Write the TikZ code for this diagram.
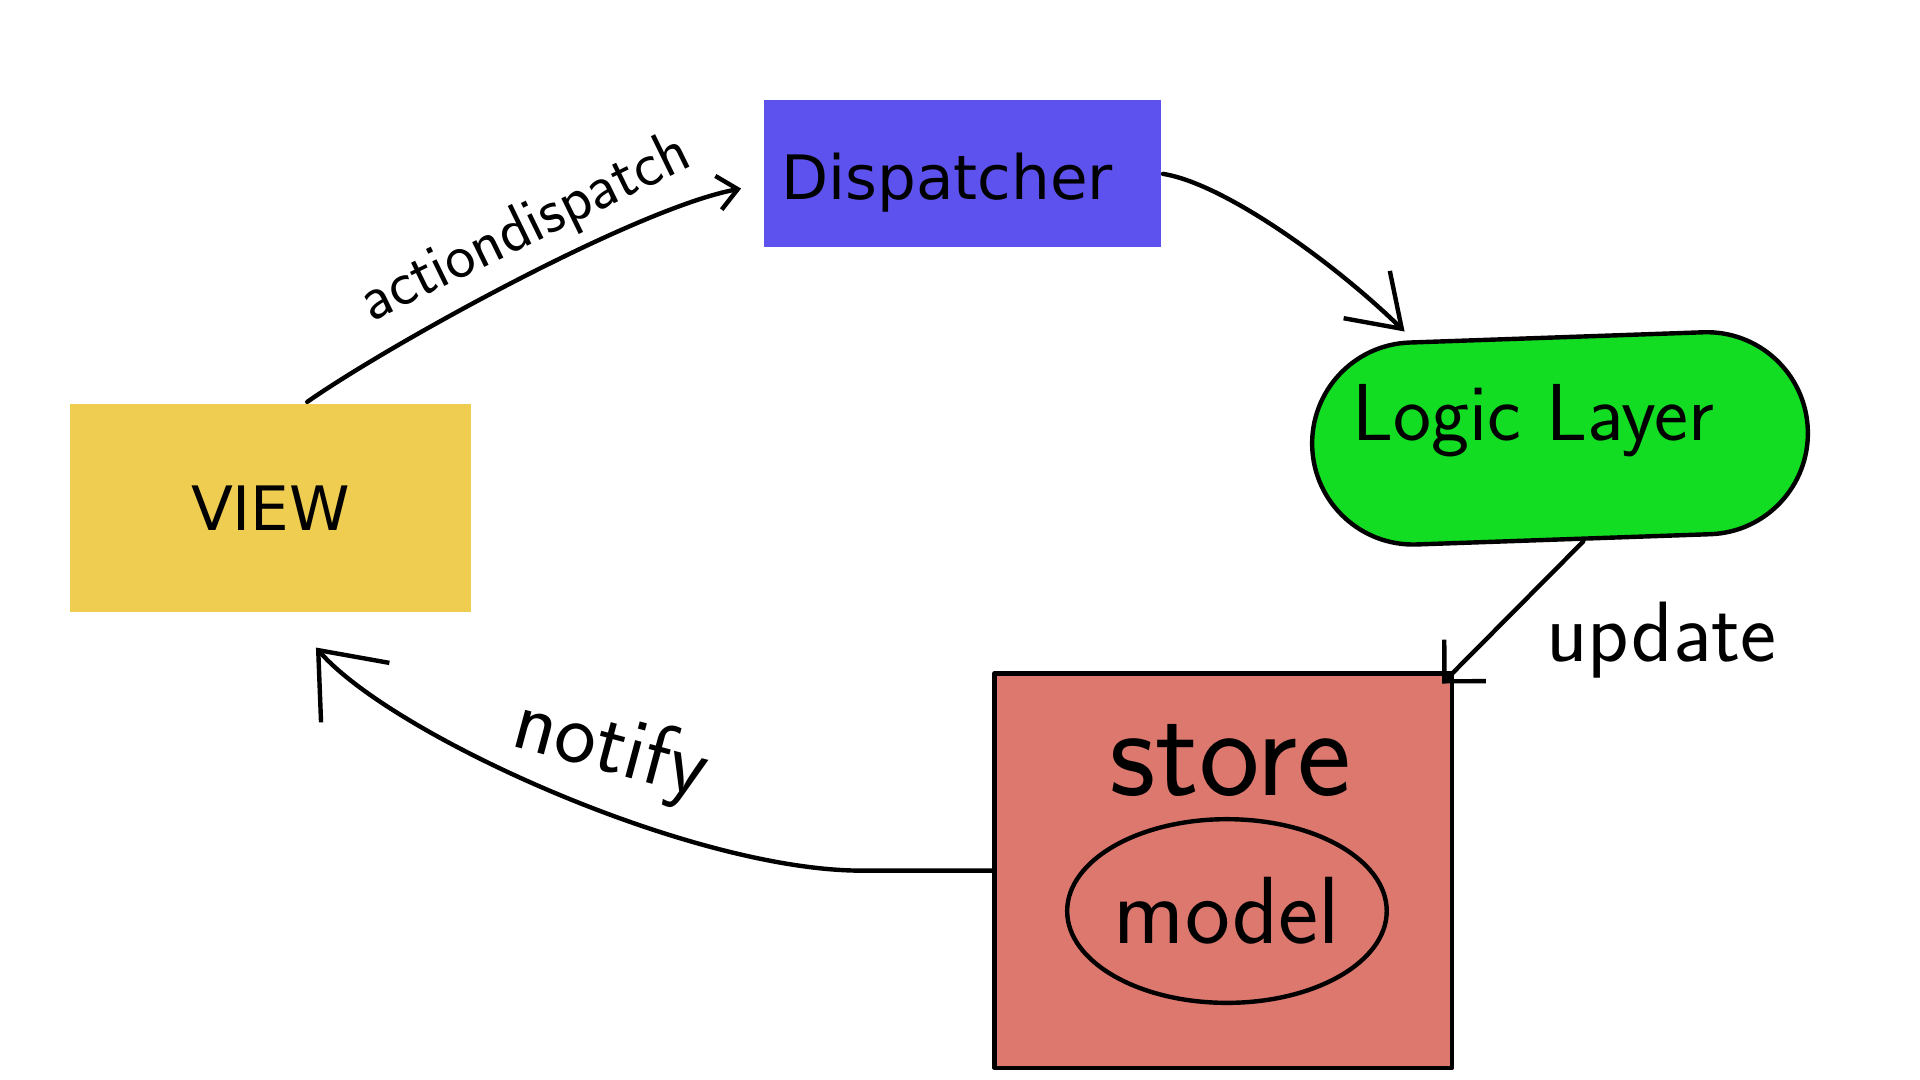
\documentclass[tikz,border=0pt]{standalone}
\usepackage{fontspec}
\usepackage{tikz}
\usetikzlibrary{shapes,shapes.misc,arrows.meta}
\newfontfamily\boxfont{DejaVu Sans}
\definecolor{dispblue}{HTML}{5E52EF}
\definecolor{viewyellow}{HTML}{EFCD50}
\definecolor{logicgreen}{HTML}{12DD22}
\definecolor{storered}{HTML}{DC786E}

\begin{document}
\begin{tikzpicture}[x=1pt, y=-1pt, ->, >={Straight Barb[length=24pt,width=48pt]},
      every path/.append style={line width=3.6pt}, line cap=round, line join=round,
      every node/.append style={inner sep=0pt}]
    \tikzstyle{block} = [rectangle,font=\boxfont\fontsize{50}{60}\selectfont]
    \tikzstyle{hand} = [font=\sffamily\fontsize{66}{76}\selectfont]
    \useasboundingbox (0,0) rectangle (1568,882);
    \node (VIEW) [block,fill=viewyellow,minimum width=328pt,minimum height=170pt] at (221,415) {VIEW};
    \node (Dispatcher) [block,fill=dispblue,text width=296pt,inner xsep=14pt,align=left,
      text height=45pt,text depth=3pt,minimum height=120pt] at (786,142) {Dispatcher};
    \node (Logic) [rounded rectangle,draw,fill=logicgreen,minimum width=405pt,minimum height=165pt,rotate=2] at (1274,358) {};
    \node (LogicText) [hand,anchor=base] at (1252,360) {Logic Layer};
    \node (Store) [rectangle,draw,fill=storered,minimum width=374pt,minimum height=322pt] at (999,711) {};
    \node (StoreText) [hand,font=\sffamily\fontsize{105}{110}\selectfont,anchor=base] at (1005,650) {store};
    \node (Model) [ellipse,draw,minimum width=234pt,minimum height=150pt,hand,font=\sffamily\fontsize{78}{84}\selectfont] at (1002,744) {model};
    \node (actionLabel) [hand,font=\sffamily\fontsize{52}{60}\selectfont,rotate=26,anchor=base] at (435,199) {actiondispatch};
    \node (updateLabel) [hand,font=\sffamily\fontsize{70}{76}\selectfont,anchor=base] at (1357,540) {update};
    \node (notifyLabel) [hand,font=\sffamily\fontsize{72}{78}\selectfont,rotate=-15,anchor=base] at (494,630) {notify};
    \draw [-{Straight Barb[length=16pt,width=28pt]}] (VIEW.71) .. controls (320,280) and (520,170) .. ([xshift=-17pt,yshift=-12pt]Dispatcher.west);
    \draw [-{Straight Barb[length=40pt,width=54pt]}] (Dispatcher.east) .. controls (1000,150) and (1090,215) .. ([xshift=-124pt,yshift=3pt]Logic.north);
    \draw (Logic.south) ++(16,0) -- ([xshift=-10pt,yshift=-10pt]Store.north east);
    \draw [-{Straight Barb[length=46pt,width=74pt]}] (Store.west) -- (700,711) .. controls (560,709) and (320,600) .. ([xshift=37pt,yshift=-27pt]VIEW.south);
\end{tikzpicture}
\end{document}
